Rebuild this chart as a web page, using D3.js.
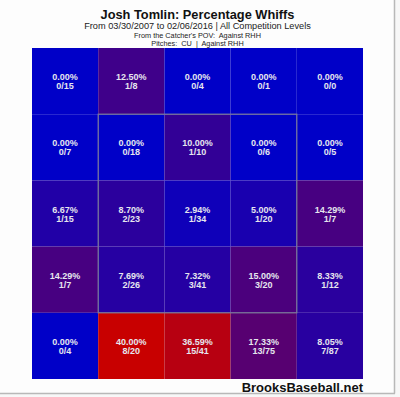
<!DOCTYPE html>
<html><head><meta charset="utf-8">
<script src="https://cdn.jsdelivr.net/npm/d3@7"></script>
<style>html,body{margin:0;padding:0;background:#f7f7f7;}svg{display:block;}</style>
</head><body>
<svg id="c" width="400" height="397"></svg>
<script>
const title = "Josh Tomlin: Percentage Whiffs";
const subtitle = "From 03/30/2007 to 02/06/2016 | All Competition Levels";
const line3 = "From the Catcher's POV:  Against RHH";
const line4 = "Pitches:  CU  |  Against RHH";
const credit = "BrooksBaseball.net";
const rows = [0,1,2,3,4];
const cols = [0,1,2,3,4];
const whiffs = [
  [0,1,0,0,0],
  [0,0,1,0,0],
  [1,2,1,1,1],
  [1,2,3,3,1],
  [0,8,15,13,7]
];
const pitches = [
  [15,8,4,1,0],
  [7,18,10,6,5],
  [15,23,34,20,7],
  [7,26,41,20,12],
  [4,20,41,75,87]
];

const svg = d3.select("#c");
svg.append("rect").attr("x",0).attr("y",0).attr("width",394).attr("height",393).attr("fill","#fdfdfd");
svg.append("line").attr("x1",394.5).attr("x2",394.5).attr("y1",0).attr("y2",393.5).attr("stroke","#b8b8b8").attr("stroke-width",1.5);
svg.append("line").attr("x1",0).attr("x2",395).attr("y1",393.5).attr("y2",393.5).attr("stroke","#b8b8b8").attr("stroke-width",1.5);

const x = d3.scaleBand().domain(cols).range([32, 363]);
const y = d3.scaleBand().domain(rows).range([48, 379]);
const cells = [];
rows.forEach(r => cols.forEach(c => {
  const n = pitches[r][c], w = whiffs[r][c];
  cells.push({r, c, n, w, rate: n ? w / n : 0});
}));
const maxRate = d3.max(cells, d => d.rate);
const color = d3.scaleLinear().domain([0, maxRate]).range(["rgb(0,0,200)", "rgb(200,0,0)"]).interpolate(d3.interpolateRgb);

const g = svg.append("g");
g.selectAll("rect.cell").data(cells).join("rect").attr("class","cell")
  .attr("x", d => x(d.c)).attr("y", d => y(d.r))
  .attr("width", x.bandwidth()).attr("height", y.bandwidth())
  .attr("fill", d => color(d.rate));

// strike zone
g.append("rect")
  .attr("x", x(1)).attr("y", y(1))
  .attr("width", x(3) + x.bandwidth() - x(1)).attr("height", y(3) + y.bandwidth() - y(1))
  .attr("fill","none").attr("stroke","#7a7a9a").attr("stroke-width",1.2);

const ff = "Liberation Sans, Arial, sans-serif";
const tg = g.selectAll("g.lbl").data(cells).join("g").attr("class","lbl")
  .attr("transform", d => `translate(${x(d.c) + x.bandwidth()/2},${y(d.r) + y.bandwidth()/2})`);
tg.append("text").attr("y", -1).attr("text-anchor","middle")
  .attr("font-family",ff).attr("font-weight","bold").attr("font-size",9)
  .attr("fill","#e6e6ee").text(d => (d.rate*100).toFixed(2) + "%");
tg.append("text").attr("y", 8).attr("text-anchor","middle")
  .attr("font-family",ff).attr("font-weight","bold").attr("font-size",9)
  .attr("fill","#e6e6ee").text(d => d.w + "/" + d.n);

const cx = 197.5;
svg.append("text").attr("x",cx).attr("y",19).attr("text-anchor","middle").attr("font-family",ff)
  .attr("font-weight","bold").attr("font-size",12.8).attr("fill","#111").text(title);
svg.append("text").attr("x",cx).attr("y",28.5).attr("text-anchor","middle").attr("font-family",ff)
  .attr("font-size",9.2).attr("fill","#222").text(subtitle);
svg.append("text").attr("x",cx).attr("y",37.5).attr("text-anchor","middle").attr("font-family",ff)
  .attr("font-size",7.3).attr("fill","#222").style("white-space","pre").text(line3);
svg.append("text").attr("x",cx).attr("y",45.5).attr("text-anchor","middle").attr("font-family",ff)
  .attr("font-size",7.3).attr("fill","#222").style("white-space","pre").text(line4);
svg.append("text").attr("x",363).attr("y",391.5).attr("text-anchor","end").attr("font-family",ff)
  .attr("font-weight","bold").attr("font-size",13).attr("fill","#111").text(credit);
</script>
</body></html>
